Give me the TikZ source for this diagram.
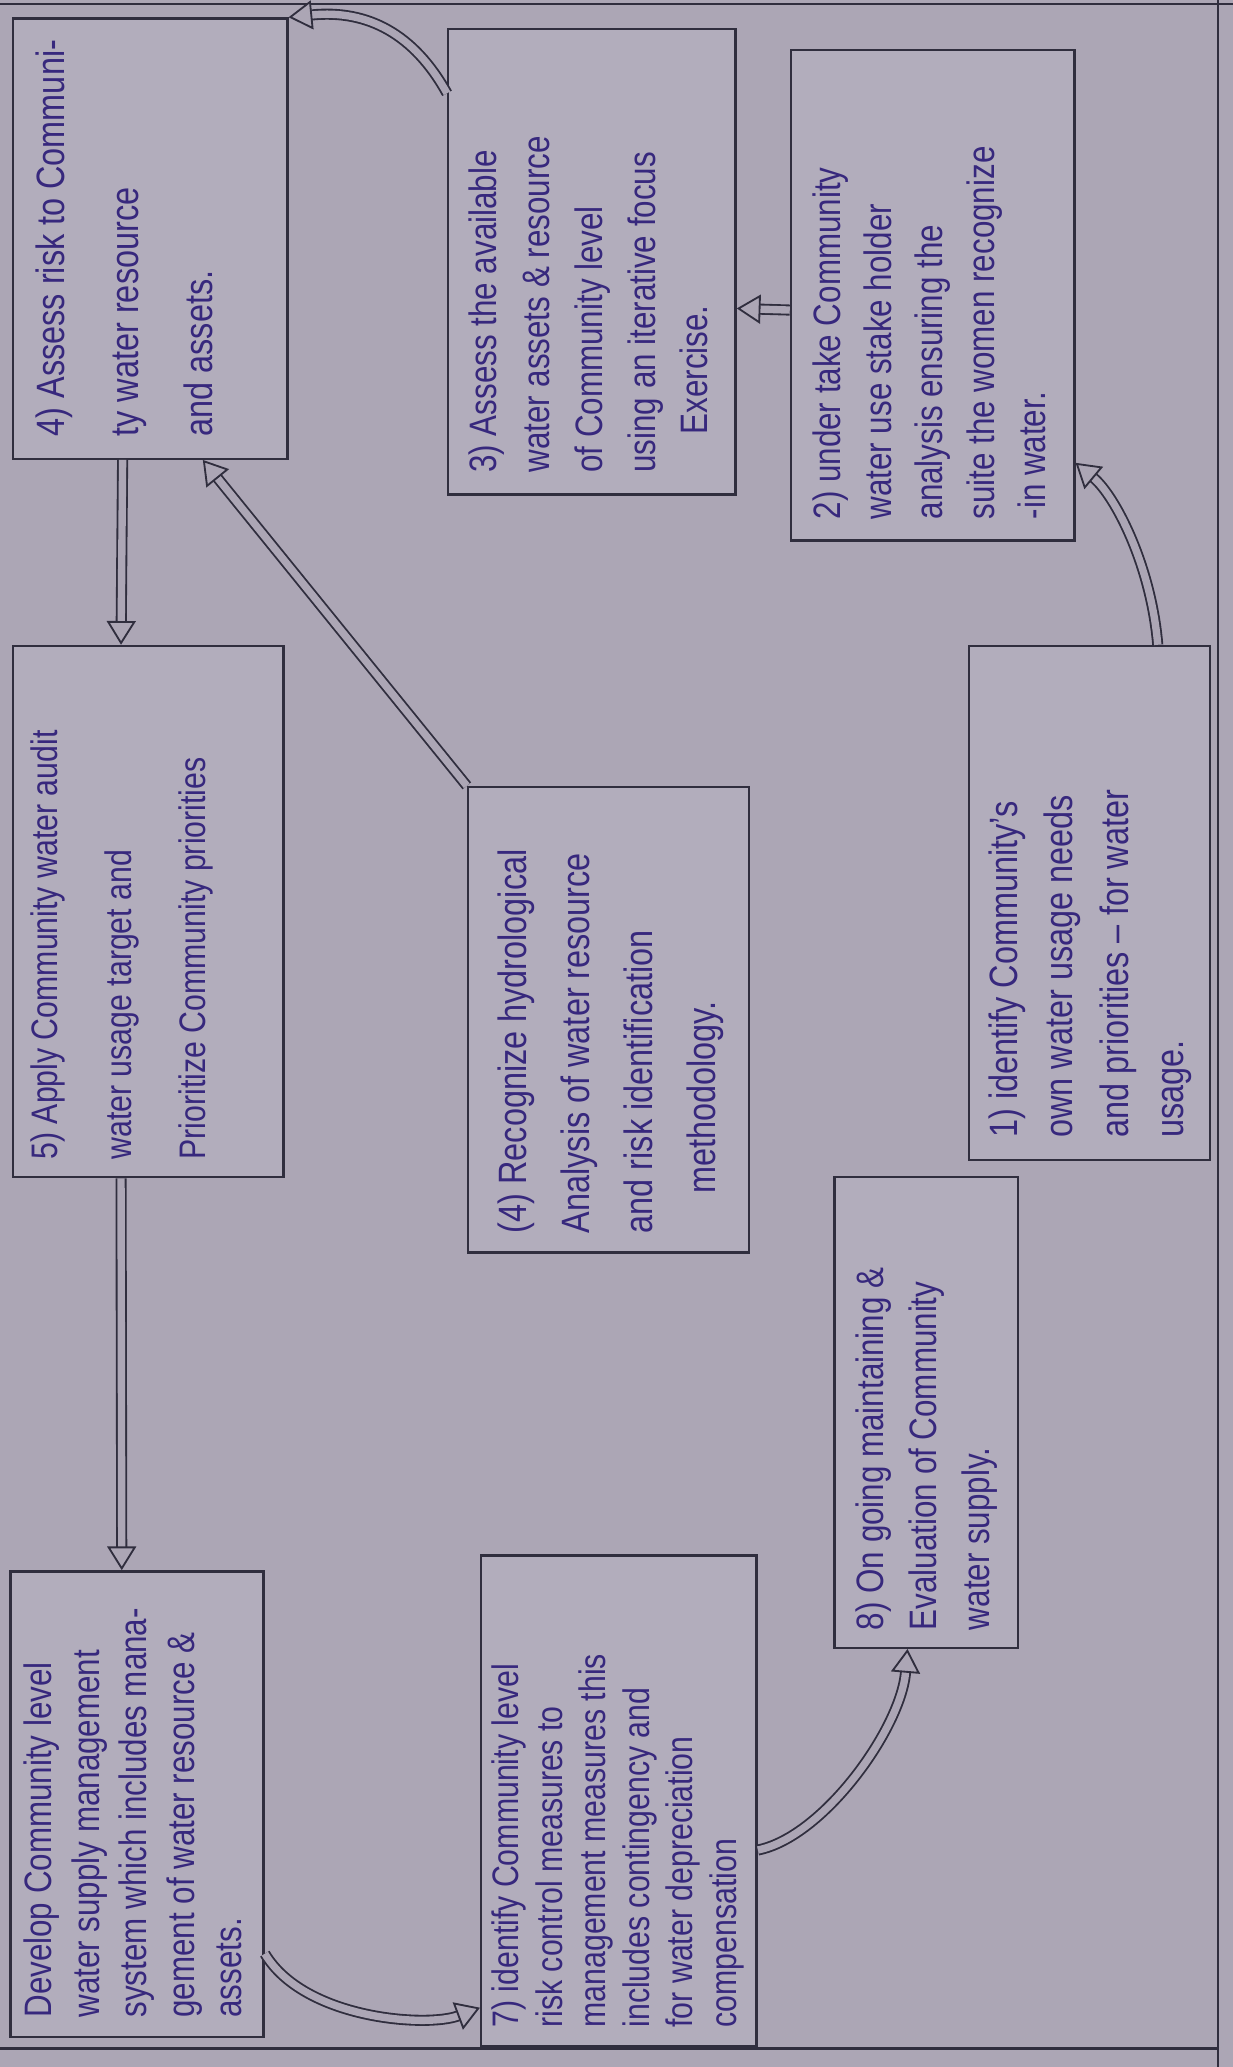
\documentclass[tikz,border=0pt]{standalone}
\usepackage{fontspec}
\setmainfont{Liberation Sans}[FakeStretch=0.82]
\usetikzlibrary{arrows.meta,calc}
\definecolor{bgc}{RGB}{172,166,181}
\definecolor{boxc}{RGB}{178,173,188}
\definecolor{linec}{RGB}{48,46,62}
\definecolor{inkc}{RGB}{55,40,125}
\newcommand{\vtext}[4]{\rotatebox{90}{\makebox[#1][l]{\fontsize{#2}{#3}\selectfont\begin{tabular}{@{}l@{}}#4\end{tabular}}}}
\begin{document}
\begin{tikzpicture}[x=0.5pt,y=-0.5pt,
  box/.style={draw=linec,line width=0.9pt,fill=boxc,inner sep=0pt,text=inkc},
  dar/.style={draw=linec,line width=0.7pt,double=bgc,double distance=2.8pt,
    -{Triangle[open,length=9pt,width=11pt,fill=bgc]}},
  frame/.style={draw=linec,line width=0.9pt}]
\fill[bgc] (0,0) rectangle (935,1568);
\useasboundingbox (0,0) rectangle (935,1568);
% page frame
\draw[frame] (0,3) -- (935,3);
\draw[frame] (924,0) -- (924,1568);
\draw[frame] (0,1554) -- (924,1554);
% boxes
\node[box,minimum width=104pt,minimum height=167pt] (b5) at (114,181)
  {\kern-10pt\vtext{150pt}{15}{28pt}{4) Assess risk to Communi-\\ ty water resource\\ and assets.}\kern10pt};
\node[box,minimum width=109pt,minimum height=176.5pt] (b2) at (449,198.5)
  {\vtext{160pt}{14.5}{20pt}{3) Assess the available\\ water assets \& resource\\ of Community level\\ using an iterative focus\\ \quad Exercise.}};
\node[box,minimum width=107.5pt,minimum height=186pt] (b3) at (707.5,224)
  {\vtext{170pt}{14.5}{19.5pt}{2) under take Community\\ water use stake holder\\ analysis ensuring the\\ suite the women recognize\\ -in water.}};
\node[box,minimum width=91.5pt,minimum height=195pt] (b1) at (826.5,685)
  {\vtext{178pt}{15}{21pt}{1) identify Community's\\ own water usage needs\\ and priorities -- for water\\ usage.}};
\node[box,minimum width=106.5pt,minimum height=176.5pt] (b4) at (461.5,773.5)
  {\vtext{162pt}{15}{24pt}{(4) Recognize hydrological\\ Analysis of water resource\\ and risk identification\\ \quad methodology.}};
\node[box,minimum width=102.5pt,minimum height=201.5pt] (b6) at (112.5,691.5)
  {\kern-12pt\vtext{188pt}{14}{28pt}{5) Apply Community water audit\\ water usage target and\\ Prioritize Community priorities}\kern12pt};
\node[box,minimum width=69.5pt,minimum height=178.5pt] (b8) at (702.5,1071.5)
  {\vtext{165pt}{14.5}{20pt}{8) On going maintaining \&\\ Evaluation of Community\\ water supply.}};
\node[box,minimum width=104.5pt,minimum height=186pt] (b7) at (469.5,1366)
  {\vtext{172pt}{14}{16.5pt}{7) identify Community level\\ risk control measures to\\ management measures this\\ includes contingency and\\ for water depreciation\\ compensation}};
\node[box,minimum width=96pt,minimum height=176.5pt] (b9) at (104,1368.5)
  {\vtext{162pt}{14.5}{18pt}{Develop Community level\\ water supply management\\ system which includes mana-\\ gement of water resource \&\\ assets.}};
% connectors
\coordinate (s1) at ($(b1.north west)!0.78!(b1.north east)$);
\coordinate (e1) at ($(b3.north east)!0.84!(b3.south east)$);
\draw[dar] (s1) .. controls +(-5,-60) and +(30,25) .. (e1);
\coordinate (s2) at ($(b3.north west)!0.53!(b3.south west)$);
\coordinate (e2) at ($(b2.north east)!0.60!(b2.south east)$);
\draw[dar] (s2) -- (e2);
\coordinate (s3) at ($(b2.north west)!0.14!(b2.south west)$);
\draw[dar] (s3) .. controls +(-25,-45) and +(60,-6) .. (b5.north east);
\coordinate (e4) at ($(b5.south west)!0.69!(b5.south east)$);
\draw[dar] (b4.north west) -- (e4);
\coordinate (s5) at ($(b5.south west)!0.40!(b5.south east)$);
\coordinate (e5) at ($(b6.north west)!0.40!(b6.north east)$);
\draw[dar] (s5) -- (e5);
\coordinate (s6) at ($(b6.south west)!0.40!(b6.south east)$);
\coordinate (e6) at ($(b9.north west)!0.44!(b9.north east)$);
\draw[dar] (s6) -- (e6);
\coordinate (s7) at ($(b9.north east)!0.82!(b9.south east)$);
\coordinate (e7) at ($(b7.north west)!0.92!(b7.south west)$);
\draw[dar] (s7) .. controls +(30,50) and +(-40,15) .. (e7);
\coordinate (s8) at ($(b7.north east)!0.60!(b7.south east)$);
\coordinate (e8) at ($(b8.south west)!0.40!(b8.south east)$);
\draw[dar] (s8) .. controls +(50,-10) and +(-5,60) .. (e8);
\end{tikzpicture}
\end{document}
